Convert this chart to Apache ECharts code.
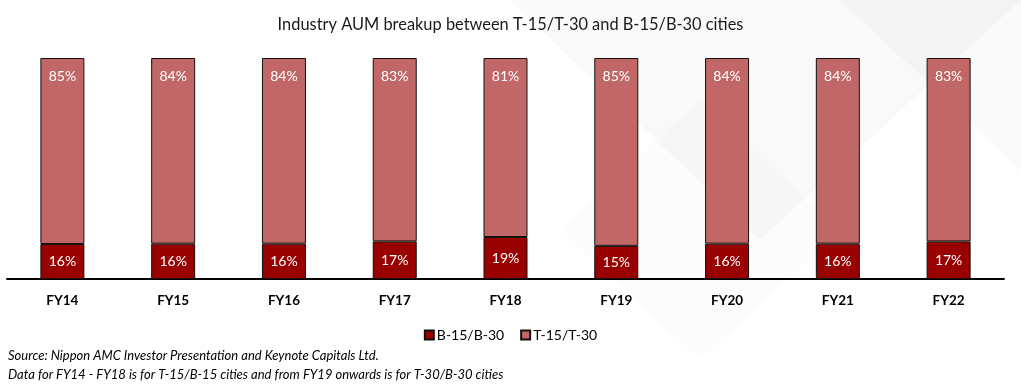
<!DOCTYPE html>
<html>
<head>
<meta charset="utf-8">
<script src="https://cdn.jsdelivr.net/npm/echarts@6/dist/echarts.min.js"></script>
<style>
html,body{margin:0;padding:0;background:#fff;}
#chart{width:1021px;height:385px;}
</style>
</head>
<body>
<div id="chart"></div>
<script>
const categories = ['FY14','FY15','FY16','FY17','FY18','FY19','FY20','FY21','FY22'];
const bShare = [16,16,16,17,19,15,16,16,17];
const tShare = [85,84,84,83,81,85,84,84,83];
const seriesNames = ['B-15/B-30','T-15/T-30'];
const titleText = 'Industry AUM breakup between T-15/T-30 and B-15/B-30 cities';
const sourceLines = [
  'Source: Nippon AMC Investor Presentation and Keynote Capitals Ltd.',
  'Data for FY14 - FY18 is for T-15/B-15 cities and from FY19 onwards is for T-30/B-30 cities'
];

// 100% stacked: normalise each column to its total
const totals = bShare.map((b, i) => b + tShare[i]);
const bNorm = bShare.map((b, i) => b / totals[i] * 100);
const tNorm = tShare.map((t, i) => t / totals[i] * 100);

const FONT = 'Lato, "Open Sans", sans-serif';
const chart = echarts.init(document.getElementById('chart'));
chart.setOption({
  backgroundColor: '#ffffff',
  animation: false,
  title: {
    text: titleText, left: 'center', top: 12,
    textStyle: {fontFamily: FONT, fontSize: 16.4, fontWeight: 'normal', color: '#1a1a1a'}
  },
  legend: {
    data: seriesNames, bottom: 38, left: 'center',
    icon: 'rect', itemWidth: 9, itemHeight: 9, itemGap: 16,
    textStyle: {fontFamily: FONT, fontSize: 14, color: '#000', padding: [0,0,0,-2]}
  },
  grid: {left: 7, right: 17, top: 58, bottom: 106, containLabel: false},
  xAxis: {
    type: 'category', data: categories,
    axisLine: {lineStyle: {color: '#000', width: 2}},
    axisTick: {show: false},
    axisLabel: {fontFamily: FONT, fontSize: 13.5, fontWeight: 'bold', color: '#000', margin: 15}
  },
  yAxis: {type: 'value', min: 0, max: 100, show: false, splitLine: {show: false}},
  graphic: [
    {type: 'polygon', silent: true, z: -10, shape: {points: [[510,0],[760,240],[1021,0]]}, style: {fill: 'rgba(0,0,0,0.025)'}},
    {type: 'polygon', silent: true, z: -10, shape: {points: [[840,0],[1021,170],[1021,0]]}, style: {fill: 'rgba(0,0,0,0.02)'}},
    {type: 'polygon', silent: true, z: -10, shape: {points: [[560,230],[700,100],[840,230],[700,360]]}, style: {fill: 'rgba(0,0,0,0.012)'}},
    {type: 'text', left: 8, top: 349, silent: true,
     style: {text: sourceLines[0], fontFamily: FONT, fontSize: 13, fontStyle: 'italic', fill: '#000'}},
    {type: 'text', left: 8, top: 368, silent: true,
     style: {text: sourceLines[1], fontFamily: FONT, fontSize: 13, fontStyle: 'italic', fill: '#000'}}
  ],
  series: [
    {
      name: seriesNames[0], type: 'bar', stack: 'total', barWidth: 44,
      data: bNorm,
      itemStyle: {color: '#990000', borderColor: '#111', borderWidth: 1},
      label: {show: true, position: 'inside', color: '#fff', fontFamily: FONT, fontSize: 14,
        formatter: p => bShare[p.dataIndex] + '%'}
    },
    {
      name: seriesNames[1], type: 'bar', stack: 'total', barWidth: 44,
      data: tNorm,
      itemStyle: {color: '#C26767', borderColor: '#111', borderWidth: 1},
      label: {show: true, position: 'insideTop', distance: 11, color: '#fff', fontFamily: FONT, fontSize: 14,
        formatter: p => tShare[p.dataIndex] + '%'}
    }
  ]
});
</script>
</body>
</html>
